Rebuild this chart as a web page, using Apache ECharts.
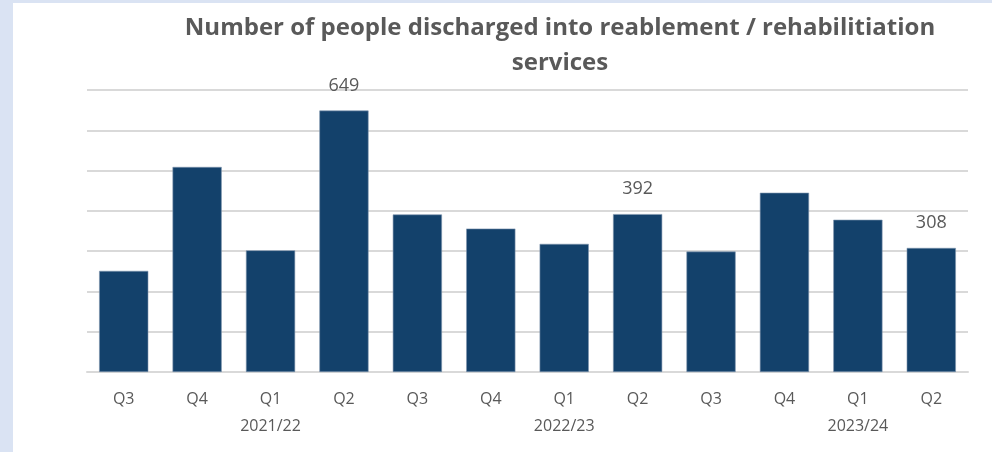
<!DOCTYPE html>
<html>
<head>
<meta charset="utf-8">
<style>
  html, body { margin: 0; padding: 0; background: #dae3f3; }
  #chart { width: 992px; height: 452px; }
</style>
<script src="https://cdn.jsdelivr.net/npm/echarts@6/dist/echarts.min.js"></script>
</head>
<body>
<div id="chart"></div>
<script>
const quarters = ['Q3', 'Q4', 'Q1', 'Q2', 'Q3', 'Q4', 'Q1', 'Q2', 'Q3', 'Q4', 'Q1', 'Q2'];
const yearLabels = ['', '', '2021/22', '', '', '', '2022/23', '', '', '', '2023/24', ''];
const values = [251, 509, 302, 649, 391, 356, 318, 392, 299, 445, 378, 308];
const labelledIndexes = [3, 7, 11];
const titleLines = ['Number of people discharged into reablement / rehabilitiation', 'services'];

const categories = quarters.map((q, i) => yearLabels[i] ? q + '\n' + yearLabels[i] : q);

const chart = echarts.init(document.getElementById('chart'), null, { renderer: 'canvas' });
chart.setOption({
  backgroundColor: '#dae3f3',
  animation: false,
  graphic: [{
    type: 'rect',
    z: -10,
    silent: true,
    shape: { x: 13, y: 3, width: 979, height: 449 },
    style: { fill: '#ffffff' }
  }],
  title: {
    text: titleLines.join('\n'),
    left: 555,
    top: 6,
    textAlign: 'center',
    textStyle: {
      fontFamily: 'Open Sans',
      fontWeight: 'bold',
      fontSize: 24,
      lineHeight: 35,
      color: '#595959'
    }
  },
  grid: { left: 87, right: 24, top: 90, bottom: 80, containLabel: false },
  xAxis: {
    type: 'category',
    data: categories,
    axisLine: { lineStyle: { color: '#d9d9d9', width: 2 } },
    axisTick: { show: false },
    axisLabel: {
      color: '#595959',
      fontFamily: 'Open Sans',
      fontSize: 16,
      lineHeight: 27,
      margin: 14,
      interval: 0
    }
  },
  yAxis: {
    type: 'value',
    min: 0,
    max: 700,
    interval: 100,
    axisLabel: { show: false },
    axisLine: { show: false },
    axisTick: { show: false },
    splitLine: { lineStyle: { color: '#d9d9d9', width: 2 } }
  },
  series: [{
    type: 'bar',
    data: values.map((v, i) => ({
      value: v,
      label: { show: labelledIndexes.includes(i) }
    })),
    barCategoryGap: '33%',
    itemStyle: { color: '#13416b', borderColor: '#7f96ae', borderWidth: 0.6 },
    label: {
      position: 'top',
      distance: 16,
      color: '#595959',
      fontFamily: 'Open Sans',
      fontSize: 18
    }
  }]
});
</script>
</body>
</html>
